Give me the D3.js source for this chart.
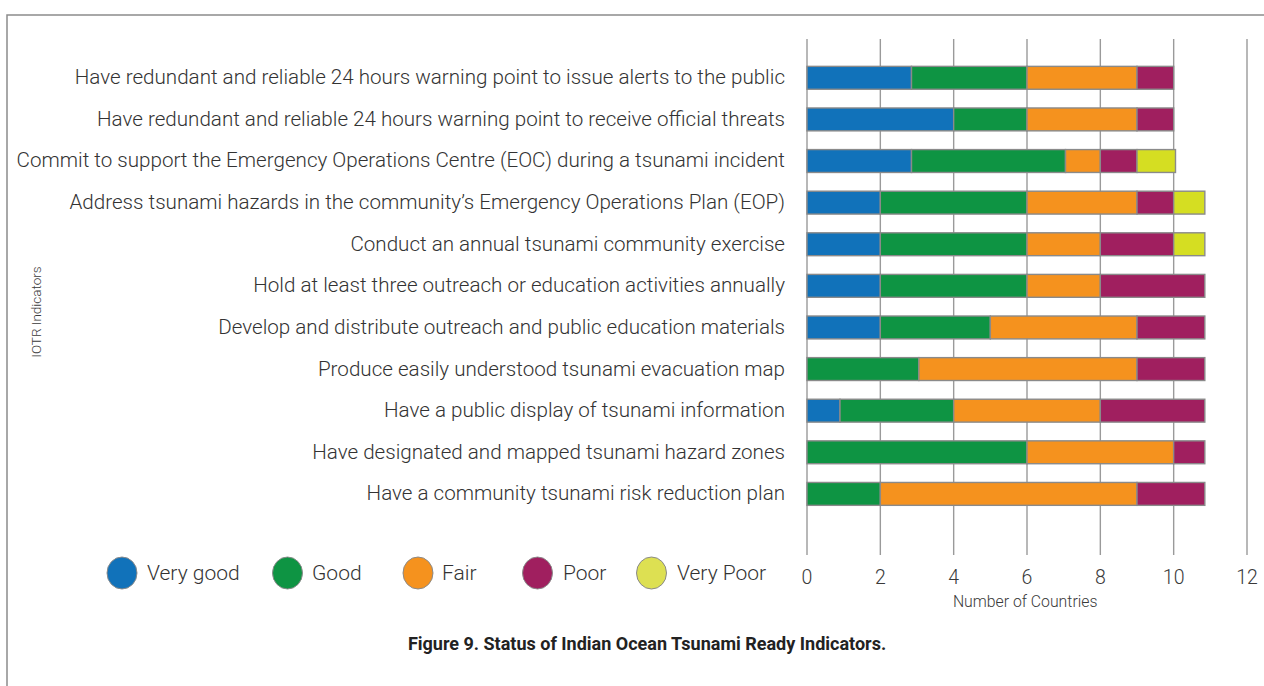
<!DOCTYPE html>
<html>
<head>
<meta charset="utf-8">
<script src="https://cdn.jsdelivr.net/npm/d3@7"></script>
<style>
  body { margin: 0; background: #fff; }
  svg { display: block; font-family: Roboto, "Open Sans", sans-serif; }
</style>
</head>
<body>
<svg id="chart"></svg>
<script>
// indicators, top to bottom
const categories = [
  "Have redundant and reliable 24 hours warning point to issue alerts to the public",
  "Have redundant and reliable 24 hours warning point to receive official threats",
  "Commit to support the Emergency Operations Centre (EOC) during a tsunami incident",
  "Address tsunami hazards in the community\u2019s Emergency Operations Plan (EOP)",
  "Conduct an annual tsunami community exercise",
  "Hold at least three outreach or education activities annually",
  "Develop and distribute outreach and public education materials",
  "Produce easily understood tsunami evacuation map",
  "Have a public display of tsunami information",
  "Have designated and mapped tsunami hazard zones",
  "Have a community tsunami risk reduction plan"
];

const statusNames = ["Very good", "Good", "Fair", "Poor", "Very Poor"];

// number of countries per status
const veryGood = [2.85, 4, 2.85, 2, 2, 2, 2, 0, 0.9, 0, 0];
const good     = [3.15, 2, 4.2, 4, 4, 4, 3, 3.05, 3.1, 6, 2];
const fair     = [3, 3, 0.95, 3, 2, 2, 4, 5.95, 4, 4, 7];
const poor     = [1, 1, 1, 1, 2, 2.85, 1.85, 1.85, 2.85, 0.85, 1.85];
const veryPoor = [0, 0, 1.05, 0.85, 0.85, 0, 0, 0, 0, 0, 0];

const xTicks = [0, 2, 4, 6, 8, 10, 12];

const barColors = ["#1172ba", "#0e9443", "#f5921e", "#a01f5f", "#d5de22"];
const legendColors = ["#1172ba", "#0e9443", "#f5921e", "#a01f5f", "#dde052"];

const width = 1264, height = 686;
const svg = d3.select("#chart").attr("width", width).attr("height", height);

// outer frame
svg.append("rect")
  .attr("x", 7).attr("y", 15)
  .attr("width", 1300).attr("height", 700)
  .attr("fill", "none")
  .attr("stroke", "#8c8c8c")
  .attr("stroke-width", 1.5);

const rows = categories.map(function (c, i) {
  return { name: c, "Very good": veryGood[i], "Good": good[i], "Fair": fair[i], "Poor": poor[i], "Very Poor": veryPoor[i] };
});

const x = d3.scaleLinear().domain([0, 12]).range([807, 1247]);
const y = d3.scaleBand()
  .domain(categories)
  .range([57, 514.7])
  .paddingInner(0.45)
  .paddingOuter(0.225);

// vertical grid lines
svg.append("g")
  .selectAll("line")
  .data(xTicks)
  .enter().append("line")
    .attr("x1", function (d) { return x(d) })
    .attr("x2", function (d) { return x(d) })
    .attr("y1", 39)
    .attr("y2", 555)
    .attr("stroke", "#9a9a9a")
    .attr("stroke-width", 1.4);

// tick labels
svg.append("g")
  .selectAll("text")
  .data(xTicks)
  .enter().append("text")
    .attr("x", function (d) { return x(d) })
    .attr("y", 579)
    .attr("text-anchor", "middle")
    .attr("dominant-baseline", "middle")
    .attr("font-size", 19.5)
    .attr("font-weight", 300)
    .attr("fill", "#3a3a3a")
    .text(function (d) { return d });

svg.append("text")
  .attr("x", x(5.95))
  .attr("y", 603)
  .attr("text-anchor", "middle")
  .attr("dominant-baseline", "middle")
  .attr("font-size", 15.8)
  .attr("font-weight", 300)
  .attr("fill", "#3a3a3a")
  .text("Number of Countries");

// stacked bars
const stack = d3.stack().keys(statusNames)(rows);

svg.append("g")
  .selectAll("g")
  .data(stack)
  .enter().append("g")
    .attr("fill", function (d, i) { return barColors[i] })
  .selectAll("rect")
  .data(function (d) { return d.filter(function (s) { return s[1] - s[0] > 0 }) })
  .enter().append("rect")
    .attr("x", function (d) { return x(d[0]) })
    .attr("y", function (d) { return y(d.data.name) })
    .attr("width", function (d) { return x(d[1]) - x(d[0]) })
    .attr("height", y.bandwidth())
    .attr("stroke", "#8a8a8a")
    .attr("stroke-width", 1.4);

// category labels
svg.append("g")
  .selectAll("text")
  .data(categories)
  .enter().append("text")
    .attr("x", 785)
    .attr("y", function (d) { return y(d) + y.bandwidth() / 2 + 1 })
    .attr("text-anchor", "end")
    .attr("dominant-baseline", "middle")
    .attr("font-size", 20.6)
    .attr("font-weight", 300)
    .attr("fill", "#333")
    .text(function (d) { return d });

// y axis title
svg.append("text")
  .attr("transform", "translate(37,312) rotate(-90)")
  .attr("text-anchor", "middle")
  .attr("dominant-baseline", "middle")
  .attr("font-size", 13.5)
  .attr("font-weight", 300)
  .attr("fill", "#3a3a3a")
  .text("IOTR Indicators");

// legend
const legendPos = [
  { cx: 122, tx: 147 },
  { cx: 287.5, tx: 312 },
  { cx: 418, tx: 442 },
  { cx: 537.5, tx: 563 },
  { cx: 651.5, tx: 677 }
];

const legend = svg.append("g")
  .selectAll("g")
  .data(statusNames)
  .enter().append("g");

legend.append("ellipse")
  .attr("cx", function (d, i) { return legendPos[i].cx })
  .attr("cy", 573)
  .attr("rx", 15)
  .attr("ry", 16)
  .attr("fill", function (d, i) { return legendColors[i] })
  .attr("stroke", "#8a8a8a")
  .attr("stroke-width", 1);

legend.append("text")
  .attr("x", function (d, i) { return legendPos[i].tx })
  .attr("y", 574)
  .attr("dominant-baseline", "middle")
  .attr("font-size", 21)
  .attr("font-weight", 300)
  .attr("fill", "#333")
  .text(function (d) { return d });

// caption
svg.append("text")
  .attr("x", 647)
  .attr("y", 645)
  .attr("text-anchor", "middle")
  .attr("dominant-baseline", "middle")
  .attr("font-size", 18)
  .attr("font-weight", 700)
  .attr("fill", "#222")
  .text("Figure 9. Status of Indian Ocean Tsunami Ready Indicators.");
</script>
</body>
</html>
